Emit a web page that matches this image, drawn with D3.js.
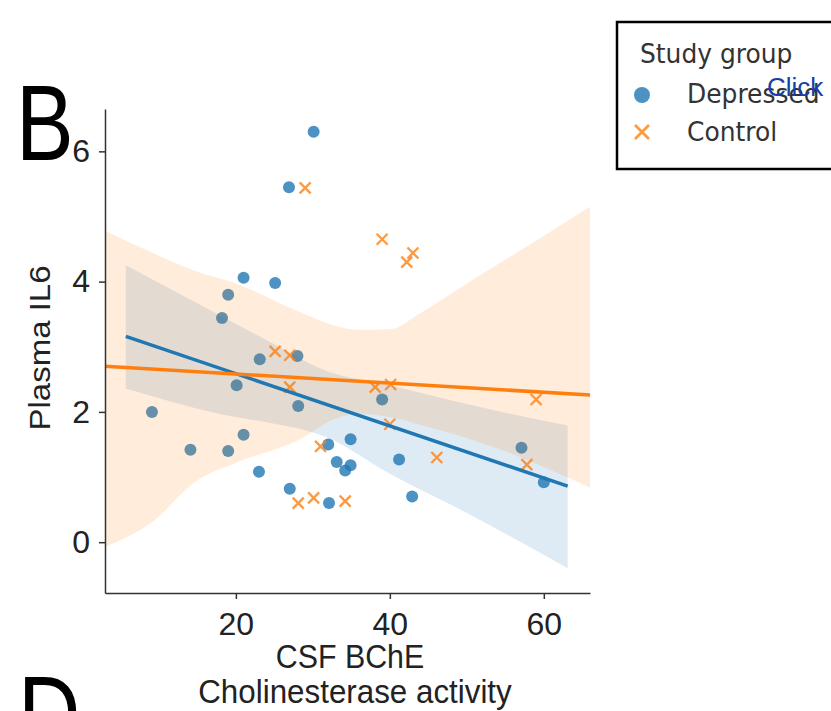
<!DOCTYPE html>
<html>
<head>
<meta charset="utf-8">
<script src="https://cdn.jsdelivr.net/npm/d3@7"></script>
<style>
  body { margin: 0; background: #fff; }
  svg { display: block; }
</style>
</head>
<body>
<script>
// values
const depressedX = [30.1, 26.9, 21.0, 25.1, 19.0, 18.2, 23.1, 28.0, 20.1, 28.1, 9.1, 21.0, 14.1, 19.0,
                    23.0, 27.0, 32.0, 34.9, 33.1, 34.2, 34.9, 32.1, 39.0, 41.2, 42.9, 57.1, 60.0];
const depressedY = [6.30, 5.45, 4.06, 3.98, 3.80, 3.44, 2.81, 2.86, 2.41, 2.09, 2.00, 1.65, 1.42, 1.40,
                    1.08, 0.82, 1.50, 1.58, 1.23, 1.10, 1.18, 0.60, 2.19, 1.27, 0.70, 1.45, 0.92];
const controlX = [29.0, 39.0, 43.0, 42.2, 25.1, 27.0, 27.0, 38.1, 40.1, 40.0, 31.0, 28.1, 30.1, 34.2,
                  46.1, 59.0, 57.8];
const controlY = [5.44, 4.65, 4.44, 4.30, 2.93, 2.87, 2.38, 2.38, 2.42, 1.81, 1.47, 0.60, 0.68, 0.63,
                  1.30, 2.19, 1.19];

// fitted lines (end points) and confidence bands
const depressedFitX = [5.7, 63.1];
const depressedFitY = [3.16, 0.86];
const controlFitX = [3, 66];
const controlFitY = [2.70, 2.26];

const depressedBandX  = [5.7, 20, 24, 32, 40, 50, 63.1];
const depressedBandHi = [4.25, 3.35, 3.10, 2.62, 2.41, 2.12, 1.79];
const depressedBandLo = [2.36, 1.92, 1.84, 1.60, 1.05, 0.45, -0.40];

const controlBandX  = [3, 9, 15, 20, 28, 33, 36, 40, 44, 50, 56, 62, 66];
const controlBandHi = [4.78, 4.45, 4.15, 3.97, 3.55, 3.32, 3.26, 3.27, 3.52, 3.97, 4.41, 4.85, 5.15];
const controlBandLo = [-0.07, 0.30, 0.95, 1.22, 1.56, 1.90, 1.97, 1.92, 1.80, 1.60, 1.35, 1.05, 0.84];

const xTicks = [20, 40, 60];
const yTicks = [0, 2, 4, 6];
const groups = ["Depressed", "Control"];

const blue = "#1f77b4", orange = "#ff7f0e";
const sansFont = "'Liberation Sans', Arial, sans-serif";

const margin = { top: 109, left: 105 };
const width = 485, height = 484;

const svg = d3.select("body").append("svg")
    .attr("width", 831)
    .attr("height", 711);

const g = svg.append("g")
    .attr("transform", "translate(" + margin.left + "," + margin.top + ")");

const x = d3.scaleLinear().domain([3, 66]).range([0, width]);
const y = d3.scaleLinear().domain([-0.78, 6.65]).range([height, 0]);

const band = d3.area()
    .x(d => x(d[0]))
    .y0(d => y(d[1]))
    .y1(d => y(d[2]))
    .curve(d3.curveMonotoneX);

const line = d3.line().x(d => x(d[0])).y(d => y(d[1]));

function drawDots(xs, ys) {
    g.append("g").selectAll("circle")
        .data(d3.zip(xs, ys))
        .enter().append("circle")
        .attr("cx", d => x(d[0]))
        .attr("cy", d => y(d[1]))
        .attr("r", 6)
        .attr("fill", blue)
        .attr("fill-opacity", 0.8);
}

function drawCrosses(xs, ys) {
    const s = 5.5;
    g.append("g").selectAll("path")
        .data(d3.zip(xs, ys))
        .enter().append("path")
        .attr("transform", d => "translate(" + x(d[0]) + "," + y(d[1]) + ")")
        .attr("d", `M${-s},${-s}L${s},${s}M${-s},${s}L${s},${-s}`)
        .attr("stroke", orange)
        .attr("stroke-opacity", 0.8)
        .attr("stroke-width", 2.3)
        .attr("fill", "none");
}

function drawBand(bx, lo, hi, color) {
    g.append("path")
        .datum(d3.zip(bx, lo, hi))
        .attr("d", band)
        .attr("fill", color)
        .attr("fill-opacity", 0.15);
}

// same stacking as the original: collections first, fit lines on top
drawDots(depressedX, depressedY);
drawBand(depressedBandX, depressedBandLo, depressedBandHi, blue);
drawCrosses(controlX, controlY);
drawBand(controlBandX, controlBandLo, controlBandHi, orange);

g.append("path")
    .datum(d3.zip(depressedFitX, depressedFitY))
    .attr("d", line)
    .attr("fill", "none")
    .attr("stroke", blue)
    .attr("stroke-width", 3.5);

g.append("path")
    .datum(d3.zip(controlFitX, controlFitY))
    .attr("d", line)
    .attr("fill", "none")
    .attr("stroke", orange)
    .attr("stroke-width", 3.5);

// axes (left and bottom spines only)
const xAxis = g.append("g")
    .attr("transform", "translate(0," + height + ")")
    .call(d3.axisBottom(x).tickValues(xTicks).tickSize(6).tickSizeOuter(0).tickPadding(13));

const yAxis = g.append("g")
    .call(d3.axisLeft(y).tickValues(yTicks).tickSize(6).tickSizeOuter(0).tickPadding(9));

[xAxis, yAxis].forEach(a => {
    a.select(".domain").attr("stroke", "#333").attr("stroke-width", 1.5);
    a.selectAll(".tick line").attr("stroke", "#333").attr("stroke-width", 1.5);
    a.selectAll(".tick text")
        .attr("fill", "#222")
        .style("font-family", sansFont)
        .style("font-size", "32px");
});

// axis titles
function label(txt, tx, ty, size, sx, extra) {
    return svg.append("text")
        .attr("transform", "translate(" + tx + "," + ty + ") scale(" + sx + ",1)" + (extra || ""))
        .attr("text-anchor", "middle")
        .style("font-family", sansFont)
        .style("font-size", size + "px")
        .attr("fill", "#222")
        .text(txt);
}

label("CSF BChE", 350, 668, 33, 0.92);
label("Cholinesterase activity", 355, 703, 33, 0.95);
label("Plasma IL6", 50, 348, 33, 0.9, " rotate(-90)");

// panel letters
svg.append("text")
    .attr("transform", "translate(16,160) scale(0.8,1)")
    .style("font-family", sansFont)
    .style("font-size", "108px")
    .attr("fill", "#000")
    .text("B");

svg.append("text")
    .attr("transform", "translate(18,751) scale(0.8,1)")
    .style("font-family", sansFont)
    .style("font-size", "108px")
    .attr("fill", "#000")
    .text("D");

// legend
const legend = svg.append("g");
legend.append("rect")
    .attr("x", 617).attr("y", 22)
    .attr("width", 240).attr("height", 147)
    .attr("fill", "#fff")
    .attr("stroke", "#000")
    .attr("stroke-width", 2.5);

const legendFont = "'DejaVu Sans', sans-serif";
legend.append("text")
    .attr("transform", "translate(640,63) scale(0.96,1)")
    .style("font-family", legendFont)
    .style("font-size", "26px")
    .attr("fill", "#333")
    .text("Study group");

legend.append("circle")
    .attr("cx", 642).attr("cy", 95).attr("r", 8)
    .attr("fill", blue).attr("fill-opacity", 0.8);

legend.append("path")
    .attr("transform", "translate(642,132)")
    .attr("d", "M-7,-7L7,7M-7,7L7,-7")
    .attr("stroke", orange).attr("stroke-opacity", 0.8)
    .attr("stroke-width", 2.8).attr("fill", "none");

legend.selectAll("text.item")
    .data(groups)
    .enter().append("text")
    .attr("class", "item")
    .attr("transform", (d, i) => "translate(687," + (103 + i * 38) + ") scale(0.96,1)")
    .style("font-family", legendFont)
    .style("font-size", "26px")
    .attr("fill", "#333")
    .text(d => d);

svg.append("text")
    .attr("x", 767).attr("y", 96)
    .style("font-family", sansFont)
    .style("font-size", "26px")
    .attr("fill", "#1740a8")
    .text("Click");
</script>
</body>
</html>
